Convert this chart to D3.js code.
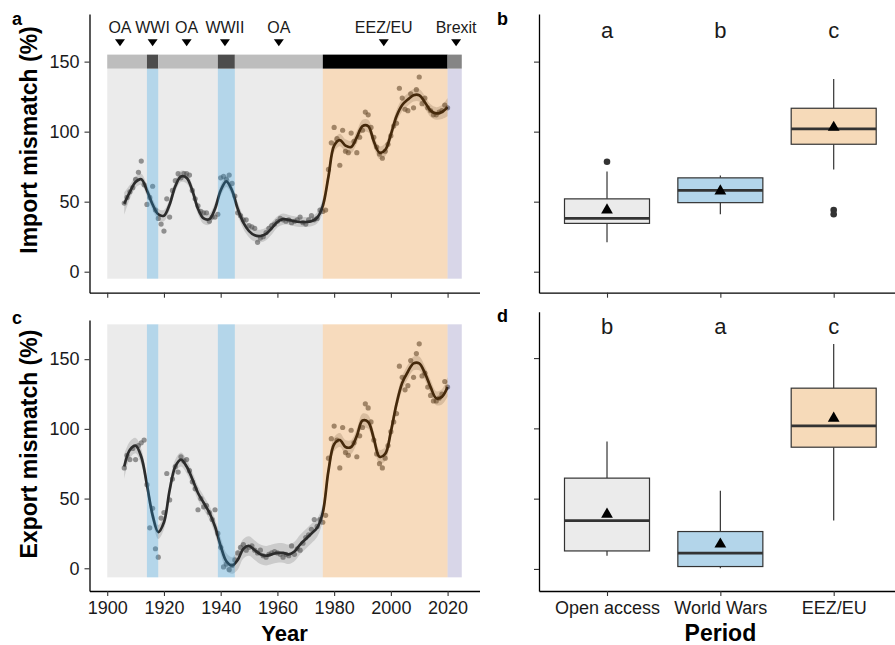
<!DOCTYPE html>
<html>
<head>
<meta charset="utf-8">
<script src="https://cdn.jsdelivr.net/npm/d3@7"></script>
<style>
  body { margin: 0; background: #fff; }
  text { font-family: "Liberation Sans", Arial, Helvetica, sans-serif; }
</style>
</head>
<body>
<script>
// ---- data ----

// management periods (background bands and status bar)
const bandStart = [1900, 1914, 1918, 1939, 1945, 1976, 2020];
const bandEnd   = [1914, 1918, 1939, 1945, 1976, 2020, 2025];
const bandKind  = ["oa", "war", "oa", "war", "oa", "eez", "brexit"];

// labels above the status bar
const eventLabels = ["OA", "WWI", "OA", "WWII", "OA", "EEZ/EU", "Brexit"];
const eventYears  = [1904.5, 1916, 1928, 1941.5, 1960.5, 1997.5, 2023];

// yearly observations, 1906 - 2020
const firstYear = 1906;
const importPts = [
  49, 53, 57, 60, 66, 71, 79, 62, 48, 53,
  61, 44, 38, 34, 29, 52, 39, 58, 65, 70,
  67, 70, 70, 69, 58, 52, 47, 43, 42, 42,
  36, 39, 39, 41, 67, 68, 66, 69, 63, 54,
  42, 40, 37, 37, 33, 32, 31, 21, 24, 25,
  28, 31, 33, 34, 36, 38, 37, 36, 37, 35,
  36, 37, 39, 35, 34, 37, 40, 37, 38, 44,
  43, 44, 73, 92, 103, 95, 76, 101, 86, 85,
  99, 93, 85, 96, 101, 114, 112, 103, 96, 89,
  84, 81, 86, 91, 97, 104, 106, 131, 124, 116,
  115, 127, 117, 130, 139, 120, 124, 117, 115, 112,
  112, 114, 115, 119, 117
];
const exportPts = [
  72, 81, 78, 86, 78, 88, 90, 92, 60, 29,
  43, 14, 8, 36, 40, 68, 49, 64, 73, 69,
  80, 77, 78, 70, 62, 57, 42, 50, 44, 45,
  40, 35, 42, 25, 15, 1, 3, -1, 2, 6,
  11, 15, 17, 13, 15, 16, 13, 11, 13, 9,
  8, 10, 11, 12, 11, 10, 8, 10, 9, 16,
  10, 14, 13, 18, 22, 24, 28, 35, 30, 35,
  33, 38, 79, 93, 102, 92, 72, 101, 83, 81,
  99, 90, 80, 95, 101, 118, 115, 105, 92, 82,
  75, 72, 79, 88, 98, 105, 111, 145, 137, 128,
  131, 149, 137, 154, 161, 138, 140, 130, 124, 120,
  120, 122, 125, 134, 130
];

// smoothed trend and ribbon half width, every 2 years 1906 - 2020
const fitYears = d3.range(1906, 2021, 2);
const importFit = [
  48.5, 57, 64, 66, 58, 48, 41, 40, 48, 61,
  68, 67, 58, 45, 38, 37.5, 45, 58, 64.5, 58,
  45, 35, 29, 26, 25.5, 27, 31, 35.5, 37.5, 37,
  36, 35.5, 35.5, 36, 38.5, 47, 68, 90, 94, 90,
  89, 96, 104, 104, 93, 85, 87, 98, 111, 119,
  123, 126, 126, 121, 115, 113, 114, 117.5
];
const importSe = [
  8, 5, 4, 4, 4, 4, 4, 4, 4, 4,
  4, 4, 4, 4, 4, 4, 4, 4, 4, 4,
  4.5, 4.5, 4.5, 4.5, 4.5, 4.5, 4.5, 4, 4, 3.5,
  3.5, 3.5, 3.5, 3.5, 4, 5, 5, 4.5, 4.5, 4.5,
  4.5, 4.5, 4.5, 4.5, 4.5, 4.5, 4.5, 4.5, 4.5, 4.5,
  4.5, 4.5, 4.5, 4.5, 4.5, 4.5, 5, 6.5
];
const exportFit = [
  73, 85, 88, 80, 60, 38, 26, 33, 56, 73,
  78, 73, 64, 54, 47, 40, 30, 16, 5, 2,
  6, 14, 16, 13, 10, 9, 10, 11, 11, 10,
  12, 17, 21, 25, 29, 40, 70, 89, 92, 87,
  87, 95, 106, 105, 93, 80, 82, 98, 118, 133,
  141, 147, 147, 140, 130, 122, 123, 130
];
const exportSe = [
  9, 6, 5.5, 5.5, 5.5, 5, 5, 5, 5, 5,
  5, 5, 5, 5, 5, 5, 5.5, 6, 6, 6,
  7, 7, 7, 7, 7, 7, 7, 7, 7, 7,
  7, 7, 7, 7, 6.5, 6, 5.5, 5, 5, 5,
  5, 5, 5, 5, 5, 5, 5, 5, 5, 5,
  5, 5, 5, 5, 5, 5, 5.5, 7
];

// boxplots by period
const periods = ["Open access", "World Wars", "EEZ/EU"];

const impLow   = [21, 41, 73];
const impQ1    = [34.5, 49.3, 91];
const impMed   = [38, 58, 102];
const impQ3    = [52, 67, 116.7];
const impHigh  = [71.5, 68.6, 137.6];
const impMean  = [44, 57.6, 103];
const impOut   = [[78.5], [], [44, 41]];
const impLetters = ["a", "b", "c"];

const expLow   = [9.3, 0.5, 34.4];
const expQ1    = [12.8, 1.7, 86.6];
const expMed   = [34.4, 11.2, 101.8];
const expQ3    = [64.6, 26.6, 128.6];
const expHigh  = [90.6, 55.7, 160];
const expMean  = [38.9, 17.6, 107.2];
const expOut   = [[], [], []];
const expLetters = ["b", "a", "c"];

const yTicks = [0, 50, 100, 150];
const xTicks = [1900, 1920, 1940, 1960, 1980, 2000, 2020];

// ---- styles ----
const overlayFill = { oa: "#afafaf", war: "#58a4d0", eez: "#e48723", brexit: "#7d76b2" };
const overlayAlpha = { oa: 0.25, war: 0.45, eez: 0.3, brexit: 0.3 };
const statusFill = { oa: "#bdbdbd", war: "#4d4d4d", eez: "#000000", brexit: "#858585" };
const boxFill = ["#ebebeb", "#b3d5ea", "#f6dab9"];
const ink = "#1a1a1a";

const svg = d3.select("body").append("svg")
  .attr("width", 895)
  .attr("height", 645);

// scales
const xYear = d3.scaleLinear().domain([1893.75, 2031.25]).range([89.5, 479.5]);
const xPer = d3.scalePoint().domain(periods).range([539, 901.7]).padding(0.6);
const yA = d3.scaleLinear().domain([-15, 184]).range([292.7, 14]);
const yB = yA;
const yC = d3.scaleLinear().domain([-16.3, 178.1]).range([591, 320]);
const yD = d3.scaleLinear().domain([-15.7, 183]).range([591, 311.7]);

const bands = bandStart.map((s, i) => ({ start: s, end: bandEnd[i], kind: bandKind[i] }));

function styleAxis(g) {
  g.select(".domain").attr("stroke", "#000").attr("stroke-width", 1.3);
  g.selectAll(".tick line").attr("stroke", "#333").attr("stroke-width", 1.1);
  g.selectAll(".tick text").attr("fill", ink).style("font-size", "18px");
}

// time-series panel
function timePanel(y, values, fit, se, bgLow, bgHigh) {
  const g = svg.append("g");

  const pts = values.map((v, i) => ({ year: firstYear + i, v: v }));
  const trend = fitYears.map((yr, i) => ({ year: yr, fit: fit[i], se: se[i] }));

  // confidence ribbon
  g.append("path")
    .datum(trend)
    .attr("d", d3.area()
      .x(d => xYear(d.year))
      .y0(d => y(d.fit - d.se))
      .y1(d => y(d.fit + d.se))
      .curve(d3.curveCatmullRom.alpha(0.5)))
    .attr("fill", "#999")
    .attr("fill-opacity", 0.42);

  // observations
  g.selectAll(".pt")
    .data(pts)
    .enter()
    .append("circle")
      .attr("cx", d => xYear(d.year))
      .attr("cy", d => y(d.v))
      .attr("r", 2.6)
      .attr("fill", "#333")
      .attr("fill-opacity", 0.6);

  // trend
  g.append("path")
    .datum(trend)
    .attr("d", d3.line()
      .x(d => xYear(d.year))
      .y(d => y(d.fit))
      .curve(d3.curveCatmullRom.alpha(0.5)))
    .attr("fill", "none")
    .attr("stroke", "#000")
    .attr("stroke-width", 2.7);

  // translucent period shading laid over the data
  g.selectAll(".band")
    .data(bands)
    .enter()
    .append("rect")
      .attr("x", d => xYear(d.start))
      .attr("width", d => xYear(d.end) - xYear(d.start))
      .attr("y", y(bgHigh))
      .attr("height", y(bgLow) - y(bgHigh))
      .attr("fill", d => overlayFill[d.kind])
      .attr("fill-opacity", d => overlayAlpha[d.kind]);

  return g;
}

// panel a
const gA = timePanel(yA, importPts, importFit, importSe, -5, 145);

// status bar and event markers on panel a
gA.selectAll(".status")
  .data(bands)
  .enter()
  .append("rect")
    .attr("x", d => xYear(d.start))
    .attr("width", d => xYear(d.end) - xYear(d.start))
    .attr("y", yA(155))
    .attr("height", yA(145) - yA(155))
    .attr("fill", d => statusFill[d.kind]);

const marker = eventYears.map((yr, i) => ({ year: yr, label: eventLabels[i] }));
gA.selectAll(".marker")
  .data(marker)
  .enter()
  .append("path")
    .attr("d", d => {
      const cx = xYear(d.year), top = yA(166), tip = yA(161);
      return "M" + (cx - 5) + "," + top + "L" + (cx + 5) + "," + top + "L" + cx + "," + tip + "Z";
    })
    .attr("fill", "#000");
gA.selectAll(".eventLabel")
  .data(marker)
  .enter()
  .append("text")
    .attr("x", d => xYear(d.year))
    .attr("y", yA(170.3))
    .attr("text-anchor", "middle")
    .style("font-size", "16px")
    .attr("fill", ink)
    .text(d => d.label);

// panel c
timePanel(yC, exportPts, exportFit, exportSe, -6.5, 175);

// axes for time panels
svg.append("g")
  .attr("transform", "translate(89.5,0)")
  .call(d3.axisLeft(yA).tickValues(yTicks).tickSize(5).tickSizeOuter(0).tickPadding(5))
  .call(styleAxis);
svg.append("g")
  .attr("transform", "translate(0,292.7)")
  .call(d3.axisBottom(xYear).tickValues(xTicks).tickFormat("").tickSize(5).tickSizeOuter(0))
  .call(styleAxis);
svg.append("g")
  .attr("transform", "translate(89.5,0)")
  .call(d3.axisLeft(yC).tickValues(yTicks).tickSize(5).tickSizeOuter(0).tickPadding(5))
  .call(styleAxis);
svg.append("g")
  .attr("transform", "translate(0,591)")
  .call(d3.axisBottom(xYear).tickValues(xTicks).tickFormat(d3.format("d")).tickSize(5).tickSizeOuter(0).tickPadding(5))
  .call(styleAxis);

// boxplot panel
function boxPanel(y, low, q1, med, q3, high, mean, outs, letters) {
  const g = svg.append("g");
  const half = xPer.step() * 0.375;
  const rows = periods.map((p, i) => ({
    p: p, low: low[i], q1: q1[i], med: med[i], q3: q3[i], high: high[i],
    mean: mean[i], outs: outs[i], letter: letters[i], fill: boxFill[i]
  }));

  const box = g.selectAll(".box").data(rows).enter().append("g");

  box.append("line")
    .attr("x1", d => xPer(d.p)).attr("x2", d => xPer(d.p))
    .attr("y1", d => y(d.high)).attr("y2", d => y(d.q3))
    .attr("stroke", "#333").attr("stroke-width", 1.2);
  box.append("line")
    .attr("x1", d => xPer(d.p)).attr("x2", d => xPer(d.p))
    .attr("y1", d => y(d.q1)).attr("y2", d => y(d.low))
    .attr("stroke", "#333").attr("stroke-width", 1.2);

  box.append("rect")
    .attr("x", d => xPer(d.p) - half)
    .attr("width", half * 2)
    .attr("y", d => y(d.q3))
    .attr("height", d => y(d.q1) - y(d.q3))
    .attr("fill", d => d.fill)
    .attr("stroke", "#333")
    .attr("stroke-width", 1.2);

  box.append("line")
    .attr("x1", d => xPer(d.p) - half).attr("x2", d => xPer(d.p) + half)
    .attr("y1", d => y(d.med)).attr("y2", d => y(d.med))
    .attr("stroke", "#333").attr("stroke-width", 2.8);

  box.selectAll(".out")
    .data(d => d.outs.map(v => ({ p: d.p, v: v })))
    .enter()
    .append("circle")
      .attr("cx", d => xPer(d.p))
      .attr("cy", d => y(d.v))
      .attr("r", 3.3)
      .attr("fill", "#333");

  box.append("path")
    .attr("d", d3.symbol(d3.symbolTriangle).size(60))
    .attr("transform", d => "translate(" + xPer(d.p) + "," + y(d.mean) + ")")
    .attr("fill", "#000");

  box.append("text")
    .attr("x", d => xPer(d.p))
    .attr("y", y(167))
    .attr("text-anchor", "middle")
    .style("font-size", "22px")
    .attr("fill", ink)
    .text(d => d.letter);

  return g;
}

boxPanel(yB, impLow, impQ1, impMed, impQ3, impHigh, impMean, impOut, impLetters);
boxPanel(yD, expLow, expQ1, expMed, expQ3, expHigh, expMean, expOut, expLetters);

svg.append("g")
  .attr("transform", "translate(539,0)")
  .call(d3.axisLeft(yB).tickValues(yTicks).tickFormat("").tickSize(5).tickSizeOuter(0))
  .call(styleAxis);
svg.append("g")
  .attr("transform", "translate(0,292.7)")
  .call(d3.axisBottom(xPer).tickFormat("").tickSize(5).tickSizeOuter(0))
  .call(styleAxis);
svg.append("g")
  .attr("transform", "translate(539,0)")
  .call(d3.axisLeft(yD).tickValues(yTicks).tickFormat("").tickSize(5).tickSizeOuter(0))
  .call(styleAxis);
svg.append("g")
  .attr("transform", "translate(0,591)")
  .call(d3.axisBottom(xPer).tickSize(5).tickSizeOuter(0).tickPadding(5))
  .call(styleAxis);

// axis titles
svg.append("text")
  .attr("transform", "translate(37,140) rotate(-90)")
  .attr("text-anchor", "middle")
  .style("font-size", "23px").style("font-weight", "bold")
  .attr("fill", "#000")
  .text("Import mismatch (%)");
svg.append("text")
  .attr("transform", "translate(37,444) rotate(-90)")
  .attr("text-anchor", "middle")
  .style("font-size", "23px").style("font-weight", "bold")
  .attr("fill", "#000")
  .text("Export mismatch (%)");
svg.append("text")
  .attr("x", 284.5).attr("y", 641)
  .attr("text-anchor", "middle")
  .style("font-size", "22px").style("font-weight", "bold")
  .attr("fill", "#000")
  .text("Year");
svg.append("text")
  .attr("x", 720.4).attr("y", 641)
  .attr("text-anchor", "middle")
  .style("font-size", "23px").style("font-weight", "bold")
  .attr("fill", "#000")
  .text("Period");

// panel tags
const tags = [["a", 12, 25], ["b", 497, 25], ["c", 12, 324], ["d", 497, 322]];
svg.selectAll(".tag")
  .data(tags)
  .enter()
  .append("text")
    .attr("x", d => d[1])
    .attr("y", d => d[2])
    .style("font-size", "18px").style("font-weight", "bold")
    .attr("fill", "#000")
    .text(d => d[0]);
</script>
</body>
</html>
